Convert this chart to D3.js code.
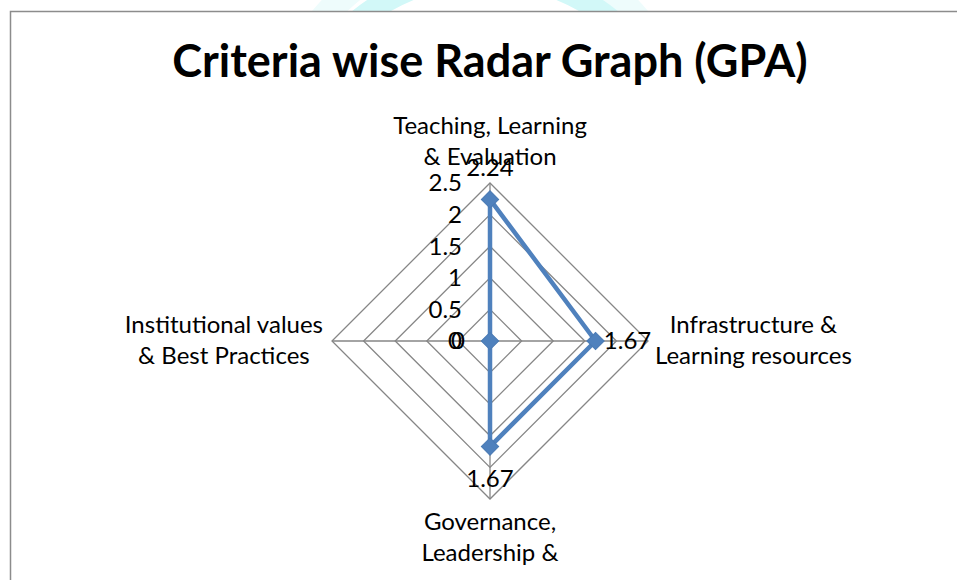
<!DOCTYPE html>
<html>
<head>
<meta charset="utf-8">
<script src="https://cdn.jsdelivr.net/npm/d3@7"></script>
<style>
  html, body { margin: 0; padding: 0; background: #fff; overflow: hidden; }
  text { font-family: Lato, "Open Sans", sans-serif; fill: #000; }
</style>
</head>
<body>
<svg id="radar" width="957" height="580"></svg>
<script>
// chart values
let categories = [
    ['Teaching, Learning', '& Evaluation'],
    ['Infrastructure &', 'Learning resources'],
    ['Governance,', 'Leadership &'],
    ['Institutional values', '& Best Practices']
]
let gpa = [2.24, 1.67, 1.67, 0]
let tickValues = [0, 0.5, 1, 1.5, 2, 2.5]

function main() {
    let svg = d3.select('#radar'),
        cx = 490, cy = 341,
        radius = 158,
        grey = '#868686',
        blue = '#4F81BD'

    let rScale = d3.scaleLinear().domain([0, 2.5]).range([0, radius])
    let angle = d3.scaleLinear().domain([0, categories.length]).range([0, 2 * Math.PI])

    // faint watermark peeking over the top edge
    let wm = svg.append('g').attr('clip-path', 'url(#topclip)')
    svg.append('clipPath').attr('id', 'topclip')
        .append('rect').attr('x', 0).attr('y', 0).attr('width', 957).attr('height', 11)
    wm.append('circle').attr('cx', 480).attr('cy', 150).attr('r', 205)
        .attr('fill', 'none').attr('stroke', '#eefcfc').attr('stroke-width', 26)
    wm.append('circle').attr('cx', 485).attr('cy', 175).attr('r', 200)
        .attr('fill', 'none').attr('stroke', '#d2f8f8').attr('stroke-width', 22)

    // plot border (top and left edges visible)
    svg.append('path')
        .attr('d', 'M10.5,' + 580 + 'V11.5H957')
        .attr('fill', 'none')
        .attr('stroke', '#8c8c8c')
        .attr('stroke-width', 1.5)

    svg.append('text')
        .attr('x', cx)
        .attr('y', 77)
        .attr('text-anchor', 'middle')
        .style('font-size', '45px')
        .style('font-weight', 'bold')
        .text('Criteria wise Radar Graph (GPA)')

    let g = svg.append('g').attr('transform', 'translate(' + cx + ',' + cy + ')')

    let ring = d3.lineRadial()
        .angle((d, i) => angle(i))
        .radius(d => rScale(d))
        .curve(d3.curveLinearClosed)

    // grid rings
    g.selectAll('.ring')
        .data(tickValues.filter(v => v > 0))
        .enter()
        .append('path')
        .attr('class', 'ring')
        .attr('d', v => ring(categories.map(() => v)))
        .attr('fill', 'none')
        .attr('stroke', grey)
        .attr('stroke-width', 1.3)

    // spokes
    g.selectAll('.spoke')
        .data(categories)
        .enter()
        .append('line')
        .attr('x1', 0).attr('y1', 0)
        .attr('x2', (d, i) => rScale(2.5) * Math.sin(angle(i)))
        .attr('y2', (d, i) => -rScale(2.5) * Math.cos(angle(i)))
        .attr('stroke', grey)
        .attr('stroke-width', 1.3)

    // value axis labels
    g.selectAll('.tick')
        .data(tickValues)
        .enter()
        .append('text')
        .attr('x', -28)
        .attr('y', d => -rScale(d))
        .attr('dy', '0.35em')
        .attr('text-anchor', 'end')
        .style('font-size', '24px')
        .text(d => d)

    // category labels
    categories.forEach((lines, i) => {
        let a = angle(i),
            ux = Math.sin(a), uy = -Math.cos(a)
        let t = g.append('text')
            .attr('text-anchor', 'middle')
            .style('font-size', '24px')
        let lh = 31, n = lines.length, y0
        if (uy < -0.5) y0 = -radius - 18 - (n - 1) * lh
        else if (uy > 0.5) y0 = radius + 31
        else y0 = 7 - (1 / 2) * lh
        lines.forEach((s, j) => {
            t.append('tspan').attr('x', 0).attr('y', y0 + j * lh).text(s)
        })
        let w = t.node().getBBox().width
        let x = 0
        if (ux > 0.5) x = radius + 7 + w / 2
        if (ux < -0.5) x = -radius - 9 - w / 2
        t.attr('transform', 'translate(' + x + ',0)')
    })

    // series
    g.append('path')
        .attr('d', ring(gpa))
        .attr('fill', 'none')
        .attr('stroke', blue)
        .attr('stroke-width', 4.5)
        .attr('stroke-linejoin', 'round')

    let pt = (v, i) => [rScale(v) * Math.sin(angle(i)), -rScale(v) * Math.cos(angle(i))]

    g.selectAll('.marker')
        .data(gpa)
        .enter()
        .append('path')
        .attr('d', d3.symbol().type(d3.symbolSquare).size(150))
        .attr('transform', (d, i) => 'translate(' + pt(d, i) + ') rotate(45)')
        .attr('fill', blue)
        .attr('stroke', '#4a7ab3')
        .attr('stroke-width', 1)

    // data labels, pushed outward along each spoke
    g.selectAll('.dlabel')
        .data(gpa)
        .enter()
        .append('text')
        .attr('x', (d, i) => pt(d, i)[0] + 32 * Math.sin(angle(i)))
        .attr('y', (d, i) => pt(d, i)[1] - 32 * Math.cos(angle(i)))
        .attr('dy', '0.35em')
        .attr('text-anchor', 'middle')
        .style('font-size', '24px')
        .text(d => d)
}

main()
</script>
</body>
</html>
